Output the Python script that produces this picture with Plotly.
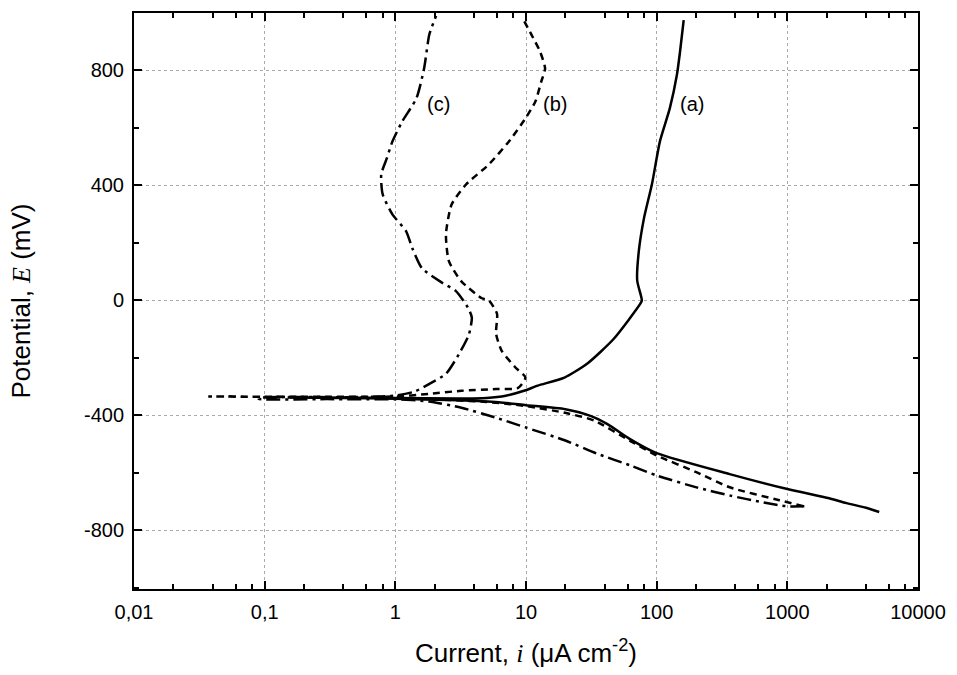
import plotly.graph_objects as go

# Polarization curves: current density (µA cm^-2) vs potential (mV)
# (a) solid
a_i = [5050, 4000, 2830, 2090, 1000, 362, 100, 63, 42, 31.5, 20, 10, 6.2, 3, 1, 0.4, 0.15,
       0.15, 0.5, 1, 3, 5, 7, 9.8, 12.3, 19.7, 29.5, 47, 75, 77, 71, 73, 80, 92, 106, 126, 143, 151, 161]
a_E = [-737, -722, -706, -689, -657, -605, -532, -484, -431, -403, -379, -365, -355, -348, -343, -340, -338,
       -338, -339, -340, -342, -340, -332, -314, -297, -269, -220, -134, -12, 0, 68, 171, 286, 404, 554, 668, 786, 866, 975]

# (b) dashed
b_i = [1325, 869, 362, 203, 100, 63, 33, 21, 10, 5, 2, 1, 0.3, 0.1, 0.037,
       0.037, 0.3, 1, 1.8, 3.2, 5.9, 8.7, 9.9, 8.3, 6.5, 5.9, 6.0, 5.2, 4.6, 3.2, 2.57, 2.44, 2.7, 3.47,
       5.2, 7.4, 9.9, 11.8, 13.1, 14, 12.8, 11, 9.6]
b_E = [-717, -696, -651, -599, -540, -490, -418, -394, -368, -354, -345, -340, -337, -336, -335,
       -335, -336, -335, -326, -315, -309, -305, -269, -234, -175, -116, -47, -1, 7, 66, 136, 230, 334, 403,
       473, 553, 633, 692, 762, 807, 866, 925, 975]

# (c) dash-dot
c_i = [1350, 1000, 660, 366, 205, 100, 63, 35, 20, 10, 5.9, 3.2, 1.8, 1, 0.3, 0.09,
       0.09, 0.5, 1, 1.4, 1.82, 2.44, 3.07, 3.65, 3.85, 3.6, 2.9, 2.3, 1.6, 1.35, 1.21, 0.95, 0.80, 0.78,
       0.86, 0.95, 1.13, 1.45, 1.66, 1.82, 2.05]
c_E = [-717, -717, -704, -680, -652, -610, -575, -534, -488, -443, -409, -374, -352, -345, -344, -343,
       -340, -337, -332, -318, -291, -256, -187, -120, -60, -26, 33, 60, 111, 181, 240, 299, 369, 438,
       494, 553, 623, 703, 807, 925, 990]

curve_labels = ["(a)", "(b)", "(c)"]
label_i = [186, 16.6, 2.13]
label_E = [682, 682, 682]

x_tickvals = [0.01, 0.1, 1, 10, 100, 1000, 10000]
x_ticktext = ["0,01", "0,1", "1", "10", "100", "1000", "10000"]
x_minor = [m * 10 ** d for d in range(-2, 4) for m in (2, 4, 6, 8)]
y_tickvals = [-800, -400, 0, 400, 800]
y_ticktext = ["-800", "-400", "0", "400", "800"]
y_minor = [-1000, -600, -200, 200, 600, 1000]

fig = go.Figure()
styles = [("solid", a_i, a_E), ("7px,5px", b_i, b_E), ("14px,5px,3px,5px", c_i, c_E)]
for dash, xs, ys in styles:
    fig.add_trace(go.Scatter(x=xs, y=ys, mode="lines",
                             line=dict(color="black", width=2.5, dash=dash, shape="spline", smoothing=0.6),
                             showlegend=False))

for t, xi, yi in zip(curve_labels, label_i, label_E):
    fig.add_annotation(x=xi, y=yi, text=t, showarrow=False, xref="x", yref="y",
                       font=dict(family="Liberation Sans", size=20, color="black"))
fig.update_annotations(selector=dict(text="(a)"), x=2.27)
fig.update_annotations(selector=dict(text="(b)"), x=1.219)
fig.update_annotations(selector=dict(text="(c)"), x=0.329)

axis_common = dict(
    showline=True, linecolor="black", linewidth=2, mirror="allticks",
    ticks="inside", ticklen=8, tickwidth=2, tickcolor="black",
    showgrid=True, gridcolor="#aaaaaa", griddash="dot", gridwidth=1,
    zeroline=False,
    tickfont=dict(family="Liberation Sans", size=20, color="black"),
)

fig.update_xaxes(type="log", range=[-2, 4], tickmode="array",
                 tickvals=x_tickvals, ticktext=x_ticktext, ticklabelstandoff=4,
                 minor=dict(tickmode="array", tickvals=x_minor, ticks="inside", ticklen=5,
                            tickwidth=1.5, tickcolor="black", showgrid=False),
                 title=dict(text='Current, <span style="font-family:Liberation Serif"><i>i</i></span> (μA cm<sup>-2</sup>)',
                            font=dict(family="Liberation Sans", size=26, color="black"), standoff=22),
                 **axis_common)
fig.update_yaxes(range=[-1005, 1000], tickmode="array", tickvals=y_tickvals, ticktext=y_ticktext,
                 ticklabelstandoff=4,
                 minor=dict(tickmode="array", tickvals=y_minor, ticks="inside",
                            ticklen=5, tickwidth=1.5, tickcolor="black", showgrid=False),
                 title=dict(text='Potential, <span style="font-family:Liberation Serif"><i>E</i></span> (mV)',
                            font=dict(family="Liberation Sans", size=26, color="black"), standoff=46),
                 **axis_common)

fig.update_layout(width=957, height=675, margin=dict(l=134, r=35, t=11, b=86),
                  plot_bgcolor="white", paper_bgcolor="white")

fig.write_html("out.html")
